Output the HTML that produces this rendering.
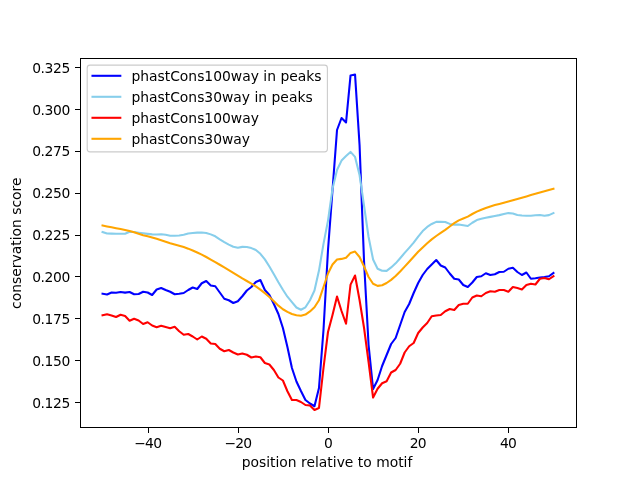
<!DOCTYPE html>
<html><head><meta charset="utf-8"><title>conservation score</title>
<style>html,body{margin:0;padding:0;background:#fff}body{width:640px;height:480px;overflow:hidden}</style></head>
<body>
<svg width="640" height="480" viewBox="0 0 640 480" style="display:block;will-change:transform">
<rect x="0" y="0" width="640" height="480" fill="#fff"/>
<polyline points="102.55,293.75 107.05,294.50 111.56,292.50 116.07,292.75 120.58,292.00 125.09,292.60 129.60,292.00 134.11,294.25 138.62,294.00 143.13,291.75 147.64,292.50 152.14,295.00 156.65,289.50 161.16,288.00 165.67,290.00 170.18,291.75 174.69,294.25 179.20,293.75 183.71,293.00 188.22,290.00 192.73,287.50 197.24,289.00 201.74,283.25 206.25,281.00 210.76,285.50 215.27,286.25 219.78,292.50 224.29,298.75 228.80,300.25 233.31,303.00 237.82,301.25 242.33,296.25 246.84,290.50 251.34,287.00 255.85,282.00 260.36,280.00 264.87,290.00 269.38,295.00 273.89,304.00 278.40,314.00 282.91,328.00 287.42,347.00 291.93,368.00 296.44,381.50 300.94,391.00 305.45,400.00 309.96,403.50 314.47,406.25 318.98,388.00 323.49,330.00 328.00,250.00 332.51,190.00 337.02,130.00 341.53,118.00 346.04,122.50 350.54,75.40 355.05,74.60 359.56,145.00 364.07,262.00 368.58,345.00 373.09,389.00 377.60,380.00 382.11,366.00 386.62,355.00 391.13,344.00 395.64,338.00 400.14,325.00 404.65,312.00 409.16,304.00 413.67,293.00 418.18,283.00 422.69,275.00 427.20,269.00 431.71,264.50 436.22,260.00 440.73,265.50 445.24,267.50 449.74,273.50 454.25,278.75 458.76,279.50 463.27,285.00 467.78,287.00 472.29,282.50 476.80,277.00 481.31,276.25 485.82,273.25 490.33,275.00 494.84,274.25 499.34,272.00 503.85,271.75 508.36,268.75 512.87,267.75 517.38,272.00 521.89,275.00 526.40,272.50 530.91,278.75 535.42,278.25 539.93,277.50 544.44,277.00 548.94,276.25 553.45,273.00" fill="none" stroke="#0000ff" stroke-width="2.08" stroke-linejoin="round" stroke-linecap="square"/>
<polyline points="102.55,232.02 107.05,233.47 111.56,233.61 116.07,233.69 120.58,233.74 125.09,233.75 129.60,231.79 134.11,232.03 138.62,232.70 143.13,233.32 147.64,233.90 152.14,234.39 156.65,234.47 161.16,234.27 165.67,234.83 170.18,235.75 174.69,235.69 179.20,235.54 183.71,234.82 188.22,233.54 192.73,233.00 197.24,232.66 201.74,232.50 206.25,232.98 210.76,234.38 215.27,236.32 219.78,239.27 224.29,242.06 228.80,244.64 233.31,246.71 237.82,247.79 242.33,246.89 246.84,247.05 251.34,248.09 255.85,249.92 260.36,253.81 264.87,259.38 269.38,266.50 273.89,274.23 278.40,282.32 282.91,289.75 287.42,296.70 291.93,302.16 296.44,307.50 300.94,309.75 305.45,307.30 309.96,300.20 314.47,290.52 318.98,270.58 323.49,243.84 328.00,220.58 332.51,188.77 337.02,170.00 341.53,160.60 346.04,156.00 350.54,151.90 355.05,156.90 359.56,175.00 364.07,206.00 368.58,237.00 373.09,259.50 377.60,268.81 382.11,270.81 386.62,270.88 391.13,267.44 395.64,263.32 400.14,258.21 404.65,252.89 409.16,247.84 413.67,242.59 418.18,236.57 422.69,231.06 427.20,226.93 431.71,223.99 436.22,221.90 440.73,221.80 445.24,222.02 449.74,223.91 454.25,224.66 458.76,224.50 463.27,225.26 467.78,225.98 472.29,222.76 476.80,220.09 481.31,218.84 485.82,217.81 490.33,216.86 494.84,215.99 499.34,215.13 503.85,214.05 508.36,213.10 512.87,213.47 517.38,215.01 521.89,215.58 526.40,215.71 530.91,215.73 535.42,215.33 539.93,215.00 544.44,215.72 548.94,215.13 553.45,213.03" fill="none" stroke="#87ceeb" stroke-width="2.08" stroke-linejoin="round" stroke-linecap="square"/>
<polyline points="102.55,315.25 107.05,314.25 111.56,315.50 116.07,317.00 120.58,314.75 125.09,316.00 129.60,320.75 134.11,318.75 138.62,320.50 143.13,324.00 147.64,322.25 152.14,325.50 156.65,327.25 161.16,325.75 165.67,327.00 170.18,328.25 174.69,326.75 179.20,331.25 183.71,334.75 188.22,334.00 192.73,336.50 197.24,339.50 201.74,336.50 206.25,338.75 210.76,343.50 215.27,344.00 219.78,348.75 224.29,351.25 228.80,350.00 233.31,352.50 237.82,354.50 242.33,353.50 246.84,354.75 251.34,357.50 255.85,356.50 260.36,357.25 264.87,363.00 269.38,364.50 273.89,370.00 278.40,377.50 282.91,380.50 287.42,391.25 291.93,400.00 296.44,400.00 300.94,402.00 305.45,405.00 309.96,405.50 314.47,410.00 318.98,408.00 323.49,368.00 328.00,332.00 332.51,315.00 337.02,296.50 341.53,311.00 346.04,323.75 350.54,284.60 355.05,275.50 359.56,300.00 364.07,328.00 368.58,362.00 373.09,397.50 377.60,388.75 382.11,383.25 386.62,381.25 391.13,372.50 395.64,370.00 400.14,363.75 404.65,352.50 409.16,346.25 413.67,343.00 418.18,333.00 422.69,327.50 427.20,323.00 431.71,316.25 436.22,315.50 440.73,315.00 445.24,311.25 449.74,309.00 454.25,310.00 458.76,305.00 463.27,303.75 467.78,303.75 472.29,297.50 476.80,295.50 481.31,296.25 485.82,293.00 490.33,291.25 494.84,291.75 499.34,290.00 503.85,290.00 508.36,291.75 512.87,287.00 517.38,288.00 521.89,289.50 526.40,285.00 530.91,283.75 535.42,284.50 539.93,278.75 544.44,278.00 548.94,279.25 553.45,276.25" fill="none" stroke="#ff0000" stroke-width="2.08" stroke-linejoin="round" stroke-linecap="square"/>
<polyline points="102.55,225.51 107.05,226.41 111.56,227.31 116.07,228.21 120.58,229.05 125.09,229.91 129.60,230.90 134.11,232.21 138.62,233.76 143.13,235.18 147.64,236.34 152.14,237.47 156.65,238.75 161.16,240.25 165.67,241.83 170.18,243.31 174.69,244.58 179.20,245.77 183.71,247.08 188.22,248.65 192.73,250.46 197.24,252.46 201.74,254.60 206.25,257.00 210.76,259.57 215.27,262.15 219.78,264.75 224.29,267.39 228.80,270.08 233.31,272.83 237.82,275.65 242.33,278.39 246.84,280.98 251.34,283.59 255.85,286.39 260.36,289.58 264.87,293.16 269.38,296.97 273.89,301.19 278.40,305.69 282.91,309.26 287.42,311.91 291.93,314.00 296.44,315.20 300.94,315.80 305.45,314.60 309.96,311.40 314.47,307.30 318.98,300.30 323.49,287.00 328.00,273.50 332.51,264.50 337.02,259.50 341.53,258.90 346.04,257.80 350.54,252.90 355.05,251.60 359.56,257.00 364.07,266.50 368.58,277.00 373.09,283.80 377.60,285.90 382.11,285.20 386.62,283.02 391.13,279.84 395.64,276.01 400.14,271.42 404.65,266.61 409.16,261.75 413.67,256.71 418.18,251.83 422.69,247.39 427.20,243.22 431.71,239.38 436.22,235.99 440.73,232.91 445.24,229.83 449.74,226.48 454.25,223.15 458.76,220.39 463.27,218.52 467.78,216.66 472.29,214.01 476.80,211.65 481.31,209.68 485.82,207.93 490.33,206.40 494.84,205.10 499.34,203.95 503.85,202.81 508.36,201.57 512.87,200.29 517.38,199.00 521.89,197.71 526.40,196.41 530.91,195.10 535.42,193.80 539.93,192.52 544.44,191.26 548.94,190.00 553.45,188.76" fill="none" stroke="#ffa500" stroke-width="2.08" stroke-linejoin="round" stroke-linecap="square"/>
<g stroke="#000" stroke-width="1.11" fill="none" shape-rendering="crispEdges">
<rect x="80.5" y="58.5" width="496" height="369"/>
</g>
<g stroke="#000" stroke-width="1.11" shape-rendering="crispEdges">
<line x1="148.5" y1="427.5" x2="148.5" y2="432.5"/>
<line x1="238.5" y1="427.5" x2="238.5" y2="432.5"/>
<line x1="328.5" y1="427.5" x2="328.5" y2="432.5"/>
<line x1="418.5" y1="427.5" x2="418.5" y2="432.5"/>
<line x1="508.5" y1="427.5" x2="508.5" y2="432.5"/>
<line x1="75" y1="402.5" x2="80.5" y2="402.5"/>
<line x1="75" y1="360.5" x2="80.5" y2="360.5"/>
<line x1="75" y1="318.5" x2="80.5" y2="318.5"/>
<line x1="75" y1="276.5" x2="80.5" y2="276.5"/>
<line x1="75" y1="235.5" x2="80.5" y2="235.5"/>
<line x1="75" y1="193.5" x2="80.5" y2="193.5"/>
<line x1="75" y1="151.5" x2="80.5" y2="151.5"/>
<line x1="75" y1="109.5" x2="80.5" y2="109.5"/>
<line x1="75" y1="67.5" x2="80.5" y2="67.5"/>
</g>
<g font-family="'DejaVu Sans', 'Liberation Sans', sans-serif" font-size="13.89px" fill="#000">
<text x="147.74" y="447.9" text-anchor="middle" letter-spacing="-0.8">−40</text>
<text x="237.92" y="447.9" text-anchor="middle" letter-spacing="-0.8">−20</text>
<text x="328.10" y="447.9" text-anchor="middle" letter-spacing="-0.8">0</text>
<text x="417.78" y="447.9" text-anchor="middle" letter-spacing="-0.8">20</text>
<text x="507.96" y="447.9" text-anchor="middle" letter-spacing="-0.8">40</text>
<text x="69.9" y="407.66" text-anchor="end" letter-spacing="-0.4">0.125</text>
<text x="69.9" y="365.79" text-anchor="end" letter-spacing="-0.4">0.150</text>
<text x="69.9" y="323.92" text-anchor="end" letter-spacing="-0.4">0.175</text>
<text x="69.9" y="282.05" text-anchor="end" letter-spacing="-0.4">0.200</text>
<text x="69.9" y="240.18" text-anchor="end" letter-spacing="-0.4">0.225</text>
<text x="69.9" y="198.31" text-anchor="end" letter-spacing="-0.4">0.250</text>
<text x="69.9" y="156.44" text-anchor="end" letter-spacing="-0.4">0.275</text>
<text x="69.9" y="114.57" text-anchor="end" letter-spacing="-0.4">0.300</text>
<text x="69.9" y="72.70" text-anchor="end" letter-spacing="-0.4">0.325</text>
<text x="327" y="466.5" text-anchor="middle">position relative to motif</text>
<text transform="translate(20.9,243.2) rotate(-90)" text-anchor="middle">conservation score</text>
<rect x="87.2" y="65.1" width="240.2" height="86.8" rx="2.8" ry="2.8" fill="#fff" fill-opacity="0.8" stroke="#ccc" stroke-width="1.11"/>
<line x1="92.5" y1="75.8" x2="120.3" y2="75.8" stroke="#0000ff" stroke-width="2.08" stroke-linecap="square"/>
<text x="131.4" y="80.70">phastCons100way in peaks</text>
<line x1="92.5" y1="96.8" x2="120.3" y2="96.8" stroke="#87ceeb" stroke-width="2.08" stroke-linecap="square"/>
<text x="131.4" y="101.70">phastCons30way in peaks</text>
<line x1="92.5" y1="117.8" x2="120.3" y2="117.8" stroke="#ff0000" stroke-width="2.08" stroke-linecap="square"/>
<text x="131.4" y="122.70">phastCons100way</text>
<line x1="92.5" y1="138.8" x2="120.3" y2="138.8" stroke="#ffa500" stroke-width="2.08" stroke-linecap="square"/>
<text x="131.4" y="143.70">phastCons30way</text>
</g>
</svg>
</body></html>
